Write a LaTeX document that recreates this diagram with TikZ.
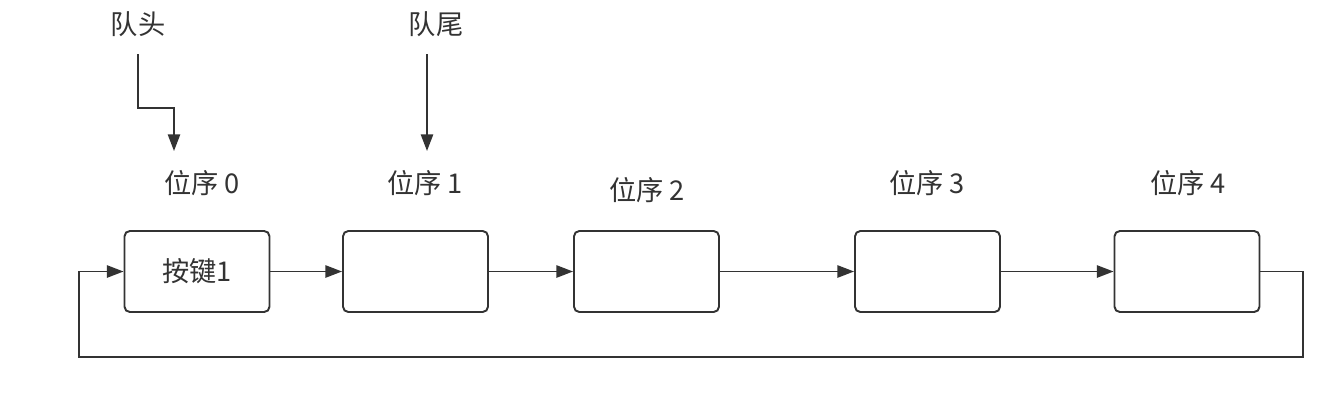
\documentclass[tikz,border=0pt]{standalone}
\usepackage{fontspec}
\setmainfont{Noto Sans CJK SC}
\usepackage{tikz}
\usetikzlibrary{arrows.meta,positioning}
\definecolor{Ink}{HTML}{333333}

\begin{document}
\begin{tikzpicture}[x=0.02cm,y=-0.02cm,>={Triangle[length=9.5pt,width=7pt]},
  font=\fontsize{15.5}{18}\selectfont,text=Ink,
  slot/.style={draw=Ink,line width=1.1pt,rounded corners=3pt,minimum width=2.9cm,minimum height=1.62cm,inner sep=0pt},
  link/.style={->,draw=Ink,line width=1pt}]
  \useasboundingbox (0,0) rectangle (1324,403);
  % queue slots
  \node[slot] (k0) at (197,271.5) {按键1};
  \node[slot] (k1) at (415.5,271.5) {};
  \node[slot] (k2) at (646.5,271.5) {};
  \node[slot] (k3) at (927.5,271.5) {};
  \node[slot] (k4) at (1187,271.5) {};
  \foreach \i/\x/\y in {0/202/183,1/425/183,2/647/190,3/927/183,4/1188/183}{\node (p\i) at (\x,\y) {位序 \i};}
  \foreach \a/\b in {k0/k1,k1/k2,k2/k3,k3/k4}{\draw[link] (\a) -- (\b);}
  % wrap around
  \coordinate (lr) at (1303,357);
  \coordinate (ll) at (79,357);
  \draw[link] (k4.east) -| (lr) -- (ll) |- (k0.west);
  % head and tail pointers
  \node (h) at (138,24) {队头};
  \node (t) at (436,24) {队尾};
  \coordinate (hs) at (138,54);
  \coordinate (ht) at (174,151);
  \coordinate (ts) at (427,54);
  \coordinate (tt) at (427,151);
  \draw[link] (hs) |- (174,108) -- (ht);
  \draw[link] (ts) -- (tt);
\end{tikzpicture}
\end{document}
